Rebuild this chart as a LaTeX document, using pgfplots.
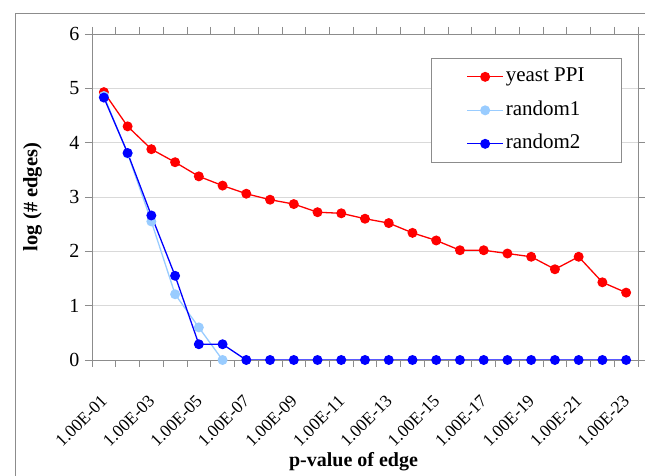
\documentclass[border=0pt]{standalone}
\usepackage{pgfplots}
\pgfplotsset{compat=1.18}
\usepackage{fontspec}
\setmainfont{Liberation Serif}
\definecolor{lblue}{RGB}{153,204,255}
\definecolor{framegray}{RGB}{140,140,140}
\definecolor{gridgray}{RGB}{217,217,217}
\begin{document}
\begin{tikzpicture}
\useasboundingbox (0,0) rectangle (645bp,476bp);
\draw[framegray, line width=0.9bp] (15bp,0) -- (15bp,463bp) -- (645bp,463bp);
\begin{axis}[
  at={(92bp,116bp)}, anchor=south west,
  scale only axis, width=546bp, height=326bp,
  xmin=-0.5, xmax=22.5, ymin=0, ymax=6,
  ytick={0,1,...,6},
  xtick={-0.5,0.5,...,22.5}, xticklabels={},
  extra x ticks={0,2,...,22},
  extra x tick labels={1.00E-01,1.00E-03,1.00E-05,1.00E-07,1.00E-09,1.00E-11,1.00E-13,1.00E-15,1.00E-17,1.00E-19,1.00E-21,1.00E-23},
  extra x tick style={major tick length=0pt},
  tick align=outside, major tick length=7bp,
  tick style={framegray, line width=0.8bp},
  axis line style={framegray, line width=0.9bp},
  ymajorgrids, grid style={gridgray, line width=0.9bp},
  /pgf/number format/assume math mode=true,
  yticklabel style={font=\fontsize{20bp}{21bp}\selectfont, xshift=-2bp},
  xticklabel style={font=\fontsize{17.5bp}{18bp}\selectfont, xshift=-4bp, yshift=-29bp, rotate=45, anchor=north east},
  xlabel={\textbf{p-value of edge}},
  ylabel={\textbf{log (\# edges)}},
  xlabel style={font=\fontsize{20bp}{22bp}\selectfont, at={(axis description cs:0.479,-0.313)}, anchor=center},
  ylabel style={font=\fontsize{20.5bp}{22bp}\selectfont, at={(axis description cs:-0.109,0.5)}, anchor=center},
  legend style={at={(0.9707,0.926)}, anchor=north east, draw=framegray, line width=0.9bp,
    font=\fontsize{21bp}{22bp}\selectfont, inner xsep=35bp, inner ysep=7bp, row sep=11bp,
    nodes={text height=14bp, text depth=4.5bp, inner sep=2bp}},
  legend cell align=left,
  legend image code/.code={\draw[mark repeat=2,mark phase=2] plot coordinates {(0bp,0bp) (18bp,0bp) (36bp,0bp)};},
  every axis plot/.append style={line width=1.3bp, mark=*, mark size=4.3bp},
]
\addplot[red, mark options={fill=red, draw=red}] coordinates {
(0,4.93) (1,4.30) (2,3.88) (3,3.64) (4,3.38) (5,3.21) (6,3.06) (7,2.95) (8,2.87) (9,2.72) (10,2.70)
(11,2.60) (12,2.52) (13,2.34) (14,2.20) (15,2.02) (16,2.02) (17,1.96) (18,1.90) (19,1.67) (20,1.90) (21,1.43) (22,1.24)};
\addlegendentry{yeast PPI}
\addplot[lblue, mark options={fill=lblue, draw=lblue}] coordinates {
(0,4.86) (1,3.80) (2,2.55) (3,1.21) (4,0.60) (5,0)};
\addlegendentry{random1}
\addplot[blue, mark options={fill=blue, draw=blue}] coordinates {
(0,4.83) (1,3.81) (2,2.66) (3,1.55) (4,0.29) (5,0.29) (6,0) (7,0) (8,0) (9,0) (10,0)
(11,0) (12,0) (13,0) (14,0) (15,0) (16,0) (17,0) (18,0) (19,0) (20,0) (21,0) (22,0)};
\addlegendentry{random2}
\end{axis}
\end{tikzpicture}
\end{document}
